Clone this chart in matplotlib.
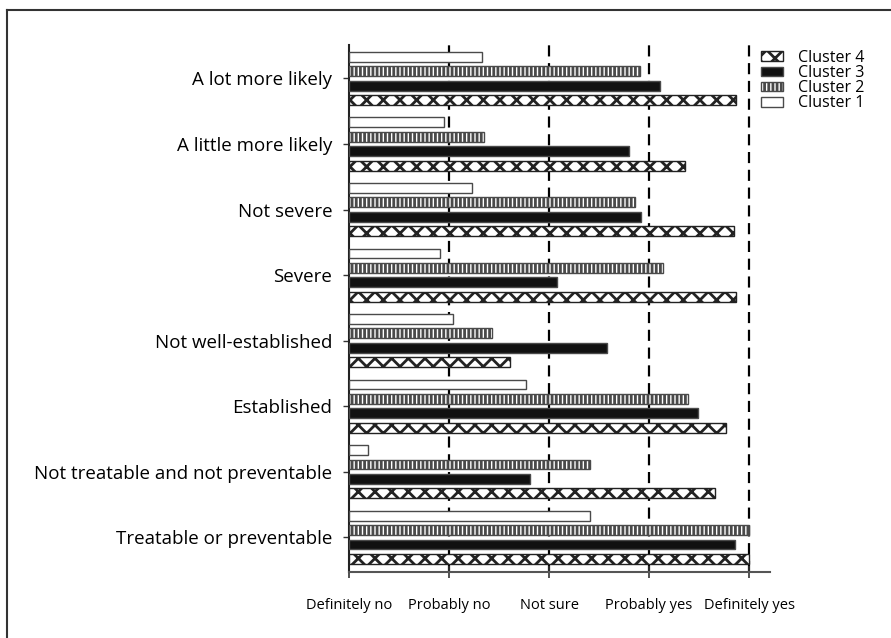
import numpy as np
import matplotlib.pyplot as plt
from matplotlib.lines import Line2D

# Data (mean response, 1 = Definitely no ... 5 = Definitely yes)
categories = ["A lot more likely", "A little more likely", "Not severe", "Severe",
              "Not well-established", "Established",
              "Not treatable and not preventable", "Treatable or preventable"]
cluster1 = [2.33, 1.95, 2.23, 1.91, 2.04, 2.77, 1.19, 3.41]
cluster2 = [3.91, 2.35, 3.86, 4.14, 2.43, 4.39, 3.41, 5.00]
cluster3 = [4.11, 3.80, 3.92, 3.08, 3.58, 4.49, 2.81, 4.86]
cluster4 = [4.87, 4.36, 4.85, 4.87, 2.61, 4.77, 4.66, 5.00]
x_labels = ["Definitely no", "Probably no", "Not sure", "Probably yes", "Definitely yes"]

plt.rcParams['font.family'] = ['Open Sans', 'DejaVu Sans']
plt.rcParams['hatch.linewidth'] = 2.0

fig = plt.figure(figsize=(8.91, 6.38), dpi=100)
ax = fig.add_axes([0.3917, 0.1034, 0.4725, 0.8261])

y = np.arange(len(categories))
step = 0.22
h = 0.15
edge = '#4a4a4a'

series = [
    (cluster1, "Cluster 1", dict(color='white', edgecolor=edge, hatch=None)),
    (cluster2, "Cluster 2", dict(color='white', edgecolor=edge, hatch='||||')),
    (cluster3, "Cluster 3", dict(color='#111111', edgecolor=edge, hatch=None)),
    (cluster4, "Cluster 4", dict(color='white', edgecolor='#222222', hatch='xx')),
]

handles = []
for i, (vals, name, st) in enumerate(series):
    vals = np.array(vals)
    b = ax.barh(y + (i - 1.5) * step, vals - 1, left=1, height=h, label=name,
                linewidth=1.0, zorder=3, **st)
    handles.append(b)

for xv in [2, 3, 4, 5]:
    ax.axvline(xv, color='black', linestyle=(0, (5, 3)), linewidth=1.6, zorder=1)

ax.set_xlim(1, 5.21)
ax.set_ylim(7.53, -0.51)
ax.set_yticks(y)
ax.set_yticklabels(categories, fontsize=13.5)
ax.set_xticks([1, 2, 3, 4, 5])
ax.set_xticklabels(x_labels, fontsize=10.5)
ax.tick_params(axis='x', direction='inout', length=9, width=1.2, color='#333333', pad=14)
ax.tick_params(axis='y', direction='out', length=4, width=1.0, color='#333333', pad=8)

for s in ['top', 'right']:
    ax.spines[s].set_visible(False)
ax.spines['left'].set_color('#222222')
ax.spines['left'].set_linewidth(1.5)
ax.spines['bottom'].set_color('#555555')
ax.spines['bottom'].set_linewidth(1.5)

fig.legend(handles[::-1], [s[1] for s in series][::-1], loc='upper left',
           bbox_to_anchor=(0.847, 0.932), frameon=False, fontsize=11.5,
           handlelength=1.4, handleheight=0.55, handletextpad=0.9,
           labelspacing=-0.05, borderaxespad=0)

# outer frame
fig.add_artist(Line2D([7 / 891, 1], [1 - 10 / 638, 1 - 10 / 638], color='#333333', linewidth=1.5))
fig.add_artist(Line2D([7 / 891, 7 / 891], [0, 1 - 10 / 638], color='#333333', linewidth=1.5))

fig.savefig("out.png", dpi=100)
